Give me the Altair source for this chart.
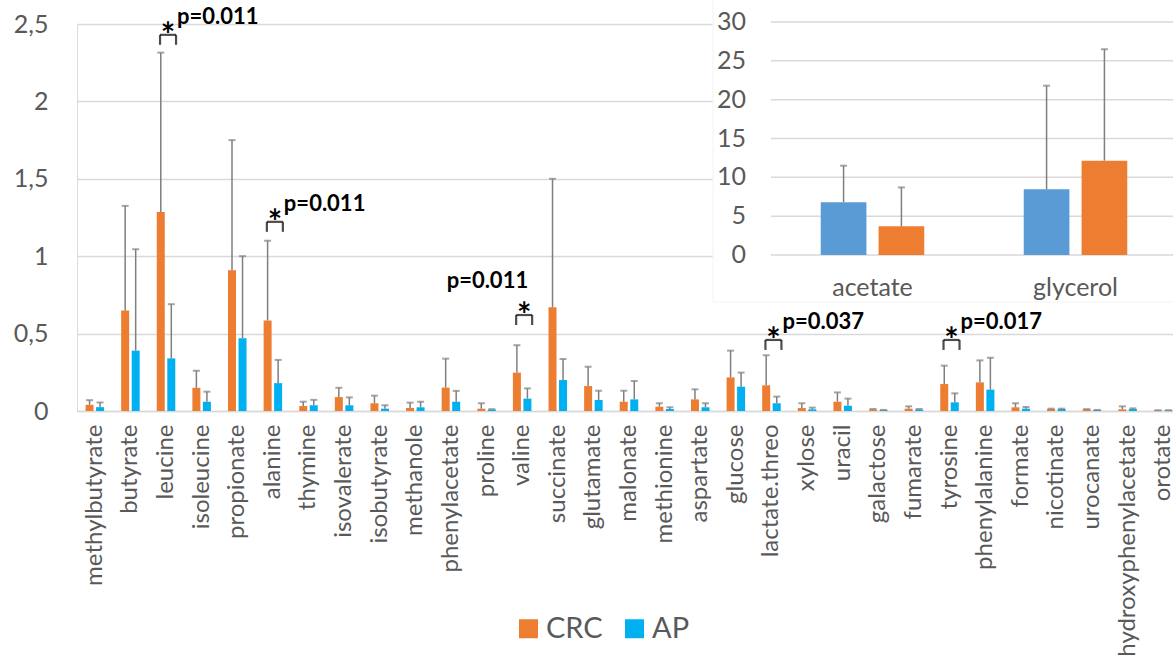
import altair as alt
import pandas as pd

# ---- main panel: mean concentration and SD per metabolite ----
metabolites = [
    "methylbutyrate", "butyrate", "leucine", "isoleucine", "propionate", "alanine",
    "thymine", "isovalerate", "isobutyrate", "methanole", "phenylacetate", "proline",
    "valine", "succinate", "glutamate", "malonate", "methionine", "aspartate",
    "glucose", "lactate.threo", "xylose", "uracil", "galactose", "fumarate",
    "tyrosine", "phenylalanine", "formate", "nicotinate", "urocanate",
    "hydroxyphenylacetate", "orotate",
]
crc_mean = [0.04, 0.65, 1.285, 0.15, 0.91, 0.585, 0.032, 0.09, 0.05, 0.02, 0.151, 0.015,
            0.248, 0.67, 0.161, 0.06, 0.028, 0.075, 0.217, 0.166, 0.019, 0.06, 0.009,
            0.015, 0.174, 0.185, 0.024, 0.013, 0.011, 0.011, 0.004]
crc_sd = [0.03, 0.675, 1.03, 0.11, 0.84, 0.515, 0.028, 0.06, 0.049, 0.034, 0.187, 0.035,
          0.177, 0.83, 0.125, 0.071, 0.022, 0.065, 0.173, 0.194, 0.031, 0.06, 0.004,
          0.015, 0.119, 0.142, 0.026, 0.002, 0.001, 0.019, 0.001]
ap_mean = [0.025, 0.39, 0.34, 0.06, 0.47, 0.18, 0.037, 0.037, 0.015, 0.024, 0.06, 0.009,
           0.08, 0.2, 0.071, 0.075, 0.013, 0.024, 0.157, 0.05, 0.011, 0.034, 0.006,
           0.009, 0.056, 0.138, 0.015, 0.013, 0.006, 0.013, 0.004]
ap_sd = [0.03, 0.655, 0.35, 0.065, 0.53, 0.15, 0.035, 0.051, 0.022, 0.036, 0.07, 0.003,
         0.066, 0.136, 0.06, 0.119, 0.011, 0.026, 0.091, 0.043, 0.011, 0.046, 0.001,
         0.004, 0.058, 0.206, 0.011, 0.002, 0.001, 0.004, 0.001]
groups = ["CRC", "AP"]
main_ticks = [0, 0.5, 1, 1.5, 2, 2.5]

# significant differences: metabolite, p-value, height of the bracket
sig_metabolites = ["leucine", "alanine", "valine", "lactate.threo", "tyrosine"]
sig_p = ["p=0.011", "p=0.011", "p=0.011", "p=0.037", "p=0.017"]
sig_bracket = [2.43, 1.222, 0.62, 0.459, 0.459]

# ---- inset panel: the two high-concentration metabolites ----
inset_substances = ["acetate", "glycerol"]
inset_groups = ["AP", "CRC"]
inset_ap_mean = [6.8, 8.45]
inset_ap_sd = [4.7, 13.35]
inset_crc_mean = [3.7, 12.15]
inset_crc_sd = [5.0, 14.35]
inset_ticks = [0, 5, 10, 15, 20, 25, 30]

ORANGE = "#ED7D31"
CYAN = "#00B0F0"
STEEL = "#5B9BD5"
GREY_TXT = "#595959"
GRID = "#D9D9D9"
ERR = "#7F7F7F"
FONT = "Lato"

rows = []
for i, m in enumerate(metabolites):
    rows.append(dict(metabolite=m, group="CRC", mean=crc_mean[i], upper=crc_mean[i] + crc_sd[i]))
    rows.append(dict(metabolite=m, group="AP", mean=ap_mean[i], upper=ap_mean[i] + ap_sd[i]))
main_df = pd.DataFrame(rows)

sig_df = pd.DataFrame(dict(metabolite=sig_metabolites, p=sig_p, bracket=sig_bracket, star="*"))

inset_rows = []
for i, s in enumerate(inset_substances):
    inset_rows.append(dict(substance=s, group="AP", mean=inset_ap_mean[i],
                           upper=inset_ap_mean[i] + inset_ap_sd[i]))
    inset_rows.append(dict(substance=s, group="CRC", mean=inset_crc_mean[i],
                           upper=inset_crc_mean[i] + inset_crc_sd[i]))
inset_df = pd.DataFrame(inset_rows)
inset_tick_df = pd.DataFrame(dict(tick=inset_ticks))
inset_label_df = pd.DataFrame(dict(substance=inset_substances))

W, H = 1096, 387


def mx(axis=None):
    return alt.X("metabolite:N", sort=metabolites, title=None, axis=axis,
                 scale=alt.Scale(domain=metabolites, range=[0, 1104],
                                 paddingInner=0.48, paddingOuter=0.24))


def moff():
    return alt.XOffset("group:N", sort=groups,
                       scale=alt.Scale(domain=groups, paddingInner=0.24, paddingOuter=0))


def my(field, axis=None):
    return alt.Y(field, title=None, axis=axis,
                 scale=alt.Scale(domain=[0, 2.5], nice=False, zero=True))


def ix(axis=None):
    return alt.X("substance:N", sort=inset_substances, title=None, axis=axis,
                 scale=alt.Scale(domain=inset_substances, range=[694, 1100],
                                 paddingInner=0.49, paddingOuter=0.245))


def ioff():
    return alt.XOffset("group:N", sort=inset_groups,
                       scale=alt.Scale(domain=inset_groups, paddingInner=0.21, paddingOuter=0))


def iy(field):
    return alt.Y(field, title=None, axis=None,
                 scale=alt.Scale(domain=[0, 30], range=[231, -2], nice=False, zero=True))


main_base = alt.Chart(main_df)

bars = main_base.mark_bar().encode(
    x=mx(alt.Axis(labelAngle=270, labelAlign="right", labelBaseline="middle",
                  labelPadding=13, labelFontSize=24, labelColor=GREY_TXT, labelFont=FONT,
                  labelLimit=500, ticks=False, domainColor=GRID, domainWidth=1.5, grid=False)),
    xOffset=moff(),
    y=my("mean:Q", alt.Axis(values=main_ticks, grid=True, gridColor=GRID, gridWidth=1.5,
                            domain=False, ticks=False, labelPadding=29, labelFontSize=25,
                            labelColor=GREY_TXT, labelFont=FONT,
                            labelExpr="replace(format(datum.value, '.1~f'), '.', ',')")),
    color=alt.Color("group:N", title=None,
                    scale=alt.Scale(domain=groups, range=[ORANGE, CYAN]),
                    legend=alt.Legend(orient="none", legendX=437, legendY=590,
                                      direction="horizontal", symbolType="square",
                                      symbolSize=360, symbolStrokeWidth=0,
                                      labelFontSize=29, labelColor=GREY_TXT, labelFont=FONT,
                                      labelOffset=3, columnPadding=17, padding=0)),
)

err = main_base.mark_rule(color=ERR, strokeWidth=1.5).encode(
    x=mx(), xOffset=moff(), y=my("mean:Q"), y2="upper:Q")

caps = main_base.mark_tick(color=ERR, size=7, thickness=2, orient="horizontal").encode(
    x=mx(), xOffset=moff(), y=my("upper:Q"))

sig_base = alt.Chart(sig_df)
br_top = sig_base.mark_tick(color="black", size=16, thickness=2.2, orient="horizontal",
                            xOffset=2).encode(x=mx(), y=my("bracket:Q"))
br_left = sig_base.mark_tick(color="black", size=10, thickness=2.2, orient="vertical",
                             xOffset=-6, yOffset=5).encode(x=mx(), y=my("bracket:Q"))
br_right = sig_base.mark_tick(color="black", size=10, thickness=2.2, orient="vertical",
                              xOffset=10, yOffset=5).encode(x=mx(), y=my("bracket:Q"))
stars = sig_base.mark_text(font=FONT, fontWeight="bold", fontSize=34, color="black",
                           baseline="alphabetic", align="center", dx=2, dy=12).encode(
    x=mx(), y=my("bracket:Q"), text="star:N")
p_side = sig_base.transform_filter("datum.metabolite != 'valine'").mark_text(
    font=FONT, fontWeight="bold", fontSize=22, color="black",
    align="left", baseline="middle", dx=11, dy=-18).encode(
    x=mx(), y=my("bracket:Q"), text="p:N")
p_above = sig_base.transform_filter("datum.metabolite == 'valine'").mark_text(
    font=FONT, fontWeight="bold", fontSize=22, color="black",
    align="right", baseline="middle", dx=6, dy=-34).encode(
    x=mx(), y=my("bracket:Q"), text="p:N")

# inset panel
panel = alt.Chart(pd.DataFrame(dict(k=[0]))).mark_rect(
    fill="white", stroke="#F3F3F3", strokeWidth=1).encode(
    x=alt.value(636), x2=alt.value(1110), y=alt.value(-30), y2=alt.value(278))

inset_grid = alt.Chart(inset_tick_df).mark_rule(color=GRID, strokeWidth=1.5).encode(
    y=iy("tick:Q"), x=alt.value(694), x2=alt.value(W))

inset_tick_labels = alt.Chart(inset_tick_df).mark_text(
    font=FONT, fontSize=25, color=GREY_TXT, align="right", baseline="middle").encode(
    y=iy("tick:Q"), x=alt.value(669), text="tick:Q")

inset_base = alt.Chart(inset_df)
inset_bars = inset_base.mark_bar().encode(
    x=ix(), xOffset=ioff(), y=iy("mean:Q"),
    color=alt.Color("group:N", legend=None,
                    scale=alt.Scale(domain=inset_groups, range=[STEEL, ORANGE])))
inset_err = inset_base.mark_rule(color=ERR, strokeWidth=1.5).encode(
    x=ix(), xOffset=ioff(), y=iy("mean:Q"), y2="upper:Q")
inset_caps = inset_base.mark_tick(color=ERR, size=7, thickness=2, orient="horizontal").encode(
    x=ix(), xOffset=ioff(), y=iy("upper:Q"))

inset_labels = alt.Chart(inset_label_df).mark_text(
    font=FONT, fontSize=25, color=GREY_TXT, align="center", baseline="middle").encode(
    x=ix(), y=alt.value(264), text="substance:N")

chart = alt.layer(
    bars, err, caps, br_top, br_left, br_right, stars, p_side, p_above,
    panel, inset_grid, inset_tick_labels, inset_bars, inset_err, inset_caps, inset_labels,
).resolve_scale(
    x="independent", y="independent", xOffset="independent", color="independent"
).properties(
    width=W, height=H,
    autosize=alt.AutoSizeParams(type="none"),
    padding={"left": 77, "top": 24, "right": 0, "bottom": 247},
).configure_view(stroke=None).configure(font=FONT)

chart.save("out.html", embed_options={"renderer": "svg", "actions": False})
